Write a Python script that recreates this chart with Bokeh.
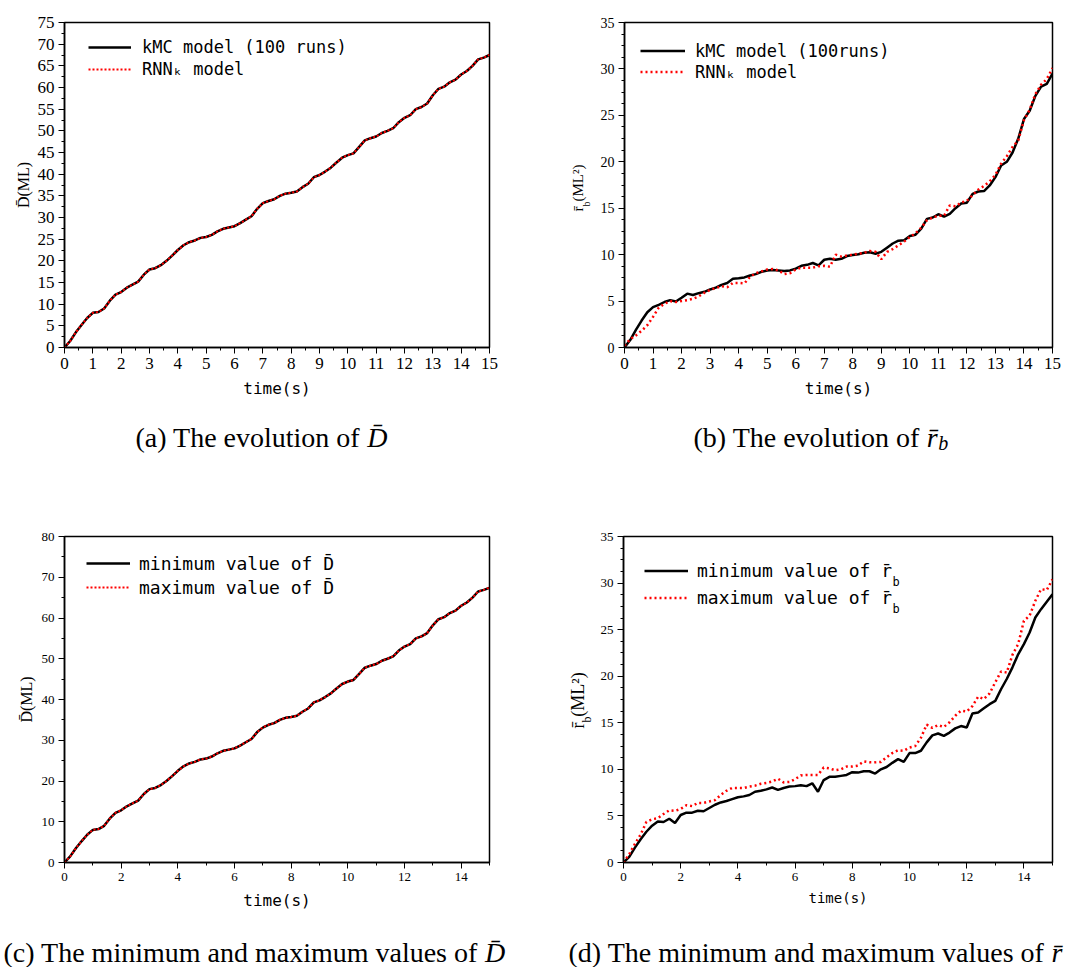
import math
from bokeh.plotting import figure
from bokeh.models import Range1d, SingleIntervalTicker, Legend, LegendItem, Label
from bokeh.layouts import column, row
from bokeh.embed import file_html
from bokeh.resources import INLINE

# ---------------- data ----------------
time = [0.0, 0.2, 0.4, 0.6, 0.8, 1.0, 1.2, 1.4, 1.6, 1.8,
        2.0, 2.2, 2.4, 2.6, 2.8, 3.0, 3.2, 3.4, 3.6, 3.8,
        4.0, 4.2, 4.4, 4.6, 4.8, 5.0, 5.2, 5.4, 5.6, 5.8,
        6.0, 6.2, 6.4, 6.6, 6.8, 7.0, 7.2, 7.4, 7.6, 7.8,
        8.0, 8.2, 8.4, 8.6, 8.8, 9.0, 9.2, 9.4, 9.6, 9.8,
        10.0, 10.2, 10.4, 10.6, 10.8, 11.0, 11.2, 11.4, 11.6, 11.8,
        12.0, 12.2, 12.4, 12.6, 12.8, 13.0, 13.2, 13.4, 13.6, 13.8,
        14.0, 14.2, 14.4, 14.6, 14.8, 15.0]

D_kmc = [0.0, 1.5, 3.5, 5.2, 6.8, 8.0, 8.2, 9.0, 10.8, 12.2,
         12.8, 13.8, 14.5, 15.2, 16.8, 18.0, 18.3, 19.0, 20.0, 21.2,
         22.5, 23.6, 24.3, 24.7, 25.3, 25.5, 26.0, 26.8, 27.4, 27.7,
         28.0, 28.7, 29.5, 30.3, 32.0, 33.3, 33.8, 34.2, 35.0, 35.5,
         35.7, 36.0, 37.0, 37.8, 39.3, 39.8, 40.6, 41.5, 42.7, 43.8,
         44.4, 44.8, 46.3, 47.8, 48.3, 48.7, 49.5, 50.0, 50.6, 52.0,
         53.0, 53.6, 55.0, 55.5, 56.3, 58.2, 59.7, 60.2, 61.2, 61.8,
         63.0, 63.8, 65.0, 66.5, 66.9, 67.5]
D_rnn = [0.0, 1.5, 3.5, 5.2, 6.8, 8.0, 8.2, 9.0, 10.8, 12.2,
         12.8, 13.8, 14.5, 15.2, 16.8, 18.0, 18.3, 19.0, 20.0, 21.2,
         22.5, 23.6, 24.3, 24.7, 25.3, 25.5, 26.0, 26.8, 27.4, 27.7,
         28.0, 28.7, 29.5, 30.3, 32.0, 33.3, 33.8, 34.2, 35.0, 35.5,
         35.7, 36.0, 37.0, 37.8, 39.3, 39.8, 40.6, 41.5, 42.7, 43.8,
         44.4, 44.8, 46.3, 47.8, 48.3, 48.7, 49.5, 50.0, 50.6, 52.0,
         53.0, 53.6, 55.0, 55.5, 56.3, 58.2, 59.7, 60.2, 61.2, 61.8,
         63.0, 63.8, 65.0, 66.5, 66.9, 67.5]

rb_kmc = [0.0, 0.8, 1.9, 2.9, 3.8, 4.35, 4.6, 4.9, 5.1, 4.95,
          5.35, 5.8, 5.65, 5.85, 6.0, 6.25, 6.45, 6.75, 6.95, 7.4,
          7.45, 7.55, 7.75, 7.9, 8.15, 8.3, 8.35, 8.3, 8.25, 8.3,
          8.5, 8.8, 8.9, 9.1, 8.85, 9.45, 9.55, 9.45, 9.55, 9.85,
          9.95, 10.05, 10.2, 10.25, 10.1, 10.3, 10.75, 11.2, 11.5, 11.55,
          12.0, 12.15, 12.8, 13.85, 14.0, 14.35, 14.1, 14.4, 15.0, 15.5,
          15.6, 16.55, 16.8, 16.85, 17.45, 18.35, 19.6, 20.0, 21.0, 22.5,
          24.6, 25.5, 27.1, 28.1, 28.4, 29.5]
rb_rnn = [0.2, 0.9, 1.3, 1.8, 2.4, 3.3, 4.3, 4.7, 5.0, 4.9,
          5.0, 5.1, 5.25, 5.5, 5.9, 6.2, 6.4, 6.6, 6.5, 6.95,
          6.95, 6.9, 7.6, 8.0, 8.2, 8.4, 8.45, 8.3, 7.9, 8.0,
          8.4, 8.6, 8.6, 8.6, 8.75, 8.8, 8.7, 10.0, 9.8, 9.9,
          10.0, 10.1, 10.2, 10.4, 10.3, 9.5, 10.3, 10.6, 11.0, 11.4,
          11.9, 12.3, 12.9, 13.7, 14.0, 14.2, 14.2, 15.3, 15.2, 15.6,
          15.8, 16.4, 17.0, 17.4, 17.9, 18.6, 19.8, 20.6, 21.6, 22.3,
          24.5, 25.6, 27.3, 28.3, 28.9, 30.1]

D_min = [0.0, 1.5, 3.5, 5.2, 6.8, 8.0, 8.2, 9.0, 10.8, 12.2,
         12.8, 13.8, 14.5, 15.2, 16.8, 18.0, 18.3, 19.0, 20.0, 21.2,
         22.5, 23.6, 24.3, 24.7, 25.3, 25.5, 26.0, 26.8, 27.4, 27.7,
         28.0, 28.7, 29.5, 30.3, 32.0, 33.1, 33.8, 34.2, 35.0, 35.5,
         35.7, 36.0, 37.0, 37.8, 39.3, 39.8, 40.6, 41.5, 42.7, 43.8,
         44.4, 44.8, 46.3, 47.8, 48.3, 48.7, 49.5, 50.0, 50.6, 52.0,
         53.0, 53.6, 55.0, 55.5, 56.3, 58.2, 59.7, 60.2, 61.2, 61.8,
         63.0, 63.8, 65.0, 66.5, 66.9, 67.4]
D_max = [0.0, 1.5, 3.5, 5.2, 6.8, 8.0, 8.2, 9.0, 10.8, 12.2,
         12.8, 13.8, 14.5, 15.2, 16.8, 18.0, 18.3, 19.0, 20.0, 21.2,
         22.5, 23.6, 24.3, 24.7, 25.3, 25.5, 26.0, 26.8, 27.4, 27.7,
         28.0, 28.7, 29.5, 30.3, 32.0, 33.2, 33.8, 34.2, 35.0, 35.5,
         35.7, 36.0, 37.0, 37.8, 39.3, 39.8, 40.6, 41.5, 42.7, 43.8,
         44.4, 44.8, 46.3, 47.8, 48.3, 48.7, 49.5, 50.0, 50.6, 52.0,
         53.0, 53.6, 55.0, 55.5, 56.3, 58.2, 59.7, 60.2, 61.2, 61.8,
         63.0, 63.8, 65.0, 66.5, 66.9, 67.5]

rb_min = [0.0, 0.6, 1.6, 2.5, 3.3, 3.95, 4.4, 4.35, 4.7, 4.25,
          5.1, 5.35, 5.35, 5.55, 5.5, 5.85, 6.2, 6.45, 6.6, 6.8,
          7.0, 7.1, 7.25, 7.6, 7.7, 7.85, 8.05, 7.8, 8.0, 8.15,
          8.2, 8.3, 8.2, 8.5, 7.6, 8.85, 9.2, 9.2, 9.3, 9.4,
          9.7, 9.65, 9.8, 9.8, 9.55, 10.0, 10.25, 10.7, 11.1, 10.8,
          11.75, 11.75, 12.0, 12.9, 13.65, 13.85, 13.6, 13.95, 14.4, 14.65,
          14.5, 16.0, 16.1, 16.55, 17.0, 17.35, 18.6, 19.7, 20.95, 22.35,
          23.45, 24.7, 26.3, 27.2, 28.0, 28.8]
rb_max = [0.0, 0.9, 2.0, 3.0, 4.35, 4.65, 4.75, 5.2, 5.6, 5.55,
          5.75, 6.15, 6.05, 6.4, 6.4, 6.55, 6.7, 7.25, 7.7, 8.0,
          8.0, 8.0, 8.15, 8.25, 8.45, 8.55, 8.7, 9.0, 8.6, 8.65,
          8.95, 9.35, 9.4, 9.4, 9.4, 10.2, 10.1, 9.9, 10.0, 10.3,
          10.3, 10.4, 10.85, 10.75, 10.75, 10.8, 11.3, 11.75, 12.05, 12.0,
          12.35, 12.5, 13.4, 14.8, 14.45, 14.75, 14.55, 15.05, 15.75, 16.3,
          16.2, 16.8, 17.8, 17.55, 18.15, 19.35, 20.5, 20.4, 22.3, 23.45,
          25.95, 26.5, 28.1, 29.35, 29.25, 30.4]

captions = ["(a) The evolution of ", "(b) The evolution of ",
            "(c) The minimum and maximum values of ", "(d) The minimum and maximum values of "]

# ---------------- helpers ----------------
SERIF = "Liberation Serif"
MONO = "DejaVu Sans Mono"
TIMES_W = {' ': 250, '(': 333, ')': 333, 'a': 444, 'b': 500, 'c': 444, 'd': 500, 'e': 444,
           'f': 333, 'h': 500, 'i': 278, 'l': 278, 'm': 778, 'n': 500, 'o': 500, 'r': 333,
           's': 389, 't': 278, 'u': 500, 'v': 500, 'x': 500, 'T': 611}


def tw(s, fs):
    return sum(TIMES_W.get(c, 500) for c in s) * fs / 1000.0


def lab(p, x, y, s, size, font=SERIF, style="normal", angle=0.0, align="left", baseline="alphabetic"):
    p.add_layout(Label(x=x, y=y, x_units="screen", y_units="screen", text=s,
                       text_font=font, text_font_size=f"{size}px", text_font_style=style,
                       angle=angle, text_align=align, text_baseline=baseline,
                       text_color="black"))


def vlab(p, xc, yc, s, size):
    # vertical (reading upward) text piece, positioned by its centre
    lab(p, xc, yc, s, size, angle=math.pi / 2, align="center", baseline="middle")


def panel(width, height, bl, br, bt, bb, ymax, xint, yminor, xfs, yfs):
    p = figure(width=width, height=height, output_backend="svg", toolbar_location=None,
               x_range=Range1d(0, 15), y_range=Range1d(0, ymax),
               min_border_left=bl, min_border_right=br, min_border_top=bt, min_border_bottom=bb)
    p.xgrid.visible = False
    p.ygrid.visible = False
    p.background_fill_color = "white"
    p.border_fill_color = "white"
    p.outline_line_color = "black"
    p.outline_line_width = 1.5
    p.outline_line_alpha = 1.0
    p.xaxis.ticker = SingleIntervalTicker(interval=xint, num_minor_ticks=2)
    p.yaxis.ticker = SingleIntervalTicker(interval=5 if ymax != 80 else 10, num_minor_ticks=yminor)
    for ax, fs in ((p.xaxis, xfs), (p.yaxis, yfs)):
        ax.axis_line_color = "black"
        ax.axis_line_width = 1.5
        ax.major_tick_line_color = "black"
        ax.minor_tick_line_color = "black"
        ax.major_tick_in = 0
        ax.major_tick_out = 6
        ax.minor_tick_in = 0
        ax.minor_tick_out = 3
        ax.major_label_text_font = SERIF
        ax.major_label_text_font_size = f"{fs}px"
        ax.major_label_text_color = "black"
        ax.major_label_standoff = 4
        ax.axis_label_text_font_style = "normal"
        ax.axis_label_text_color = "black"
    return p


def text_fig(width, height):
    c = figure(width=width, height=height, output_backend="svg", toolbar_location=None,
               x_range=Range1d(0, 1), y_range=Range1d(0, 1),
               x_axis_type=None, y_axis_type=None,
               min_border_left=0, min_border_right=0, min_border_top=0, min_border_bottom=0)
    c.xgrid.visible = False
    c.ygrid.visible = False
    c.outline_line_color = None
    c.background_fill_color = "white"
    c.border_fill_color = "white"
    return c


def add_legend(p, items, vx, vtop, rowh, glyphw, standoff, fs):
    leg = Legend(items=[LegendItem(label=t, renderers=[r]) for t, r in items],
                 location=(vx, vtop - rowh * len(items)), padding=0, margin=0, spacing=0,
                 glyph_width=glyphw, glyph_height=rowh, label_height=rowh,
                 label_standoff=standoff, border_line_alpha=0, background_fill_alpha=0,
                 label_text_font=MONO, label_text_font_size=f"{fs}px", label_text_color="black")
    p.add_layout(leg)


# ---------------- panel (a) ----------------
pa = panel(537, 420, 64, 48, 22, 73, 75, 1, 2, 17, 17)
pa.xaxis.axis_label = "time(s)"
pa.xaxis.axis_label_text_font = MONO
pa.xaxis.axis_label_text_font_size = "16px"
pa.xaxis.axis_label_standoff = 7
pa.yaxis.axis_label = "D\u0304(ML)"
pa.yaxis.axis_label_text_font = SERIF
pa.yaxis.axis_label_text_font_size = "16px"
pa.yaxis.axis_label_standoff = 3
ra1 = pa.line(time, D_kmc, line_color="black", line_width=2.5)
ra2 = pa.line(time, D_rnn, line_color="red", line_width=2, line_dash="2 2")
add_legend(pa, [("kMC model (100 runs)", ra1), ("RNN\u2096 model", ra2)], 24, 311, 22, 43, 11, 17)

ca = text_fig(537, 63)
lab(ca, 135, 46.5, captions[0], 28)
lab(ca, 135 + tw(captions[0], 28), 46.5, "D\u0304", 28, style="italic")

# ---------------- panel (b) ----------------
# (frame of this strip is aligned with the neighbouring plot frame)
yb = text_fig(60, 420)
vlab(yb, 40.5, 138.5, "r\u0304", 15)
vlab(yb, 49, 143.5, "b", 10)
vlab(yb, 40.5, 164.5, "(ML\u00b2)", 15)

pb = panel(477, 420, 26, 22, 22, 73, 35, 1, 4, 17, 14)
pb.xaxis.axis_label = "time(s)"
pb.xaxis.axis_label_text_font = MONO
pb.xaxis.axis_label_text_font_size = "16px"
pb.xaxis.axis_label_standoff = 7
rb1 = pb.line(time, rb_kmc, line_color="black", line_width=2.5)
rb2 = pb.line(time, rb_rnn, line_color="red", line_width=2.5, line_dash="2 3")
add_legend(pb, [("kMC model (100runs)", rb1), ("RNN\u2096 model", rb2)], 16, 307, 21, 45, 10, 17)

cb = text_fig(537, 63)
xr = 156 + tw(captions[1], 28)
lab(cb, 156, 46.5, captions[1], 28)
lab(cb, xr, 46.5, "r\u0304", 28, style="italic")
lab(cb, xr + 11.5, 41, "b", 20, style="italic")

# ---------------- panel (c) ----------------
pc = panel(537, 444, 64, 48, 53, 65, 80, 2, 2, 13, 13)
pc.xaxis.axis_label = "time(s)"
pc.xaxis.axis_label_text_font = MONO
pc.xaxis.axis_label_text_font_size = "16px"
pc.xaxis.axis_label_standoff = 7
pc.yaxis.axis_label = "D\u0304(ML)"
pc.yaxis.axis_label_text_font = SERIF
pc.yaxis.axis_label_text_font_size = "16px"
pc.yaxis.axis_label_standoff = 4
rc1 = pc.line(time, D_min, line_color="black", line_width=2.5)
rc2 = pc.line(time, D_max, line_color="red", line_width=2, line_dash="2 2")
add_legend(pc, [("minimum value of D\u0304", rc1), ("maximum value of D\u0304", rc2)], 22, 311, 24, 44, 9, 18)

cc = text_fig(537, 40)
lab(cc, 3, 15, captions[2], 28)
lab(cc, 3 + tw(captions[2], 28), 15, "D\u0304", 28, style="italic")

# ---------------- panel (d) ----------------
yd = text_fig(60, 444)
vlab(yd, 40.6, 137, "r\u0304", 18)
vlab(yd, 49.4, 143, "b", 12)
vlab(yd, 40.6, 168, "(ML\u00b2)", 18)

pd_ = panel(477, 444, 26, 22, 53, 65, 35, 2, 4, 13, 13)
pd_.xaxis.axis_label = "time(s)"
pd_.xaxis.axis_label_text_font = MONO
pd_.xaxis.axis_label_text_font_size = "14px"
pd_.xaxis.axis_label_standoff = 6
rd1 = pd_.line(time, rb_min, line_color="black", line_width=2.5)
rd2 = pd_.line(time, rb_max, line_color="red", line_width=2.5, line_dash="2 3")
add_legend(pd_, [("minimum value of r\u0304", rd1), ("maximum value of r\u0304", rd2)], 21, 305, 27, 44, 9, 18)
cw = 0.6016 * 18
lab(pd_, 74 + 18 * cw, 281, "b", 12, font=MONO)
lab(pd_, 74 + 18 * cw, 254, "b", 12, font=MONO)

cd = text_fig(537, 40)
lab(cd, 31, 15, captions[3], 28)
lab(cd, 31 + tw(captions[3], 28), 15, "r\u0304", 28, style="italic")

layout = column(row(pa, yb, pb), row(ca, cb), row(pc, yd, pd_), row(cc, cd))
open("out.html", "w").write(file_html(layout, INLINE))
